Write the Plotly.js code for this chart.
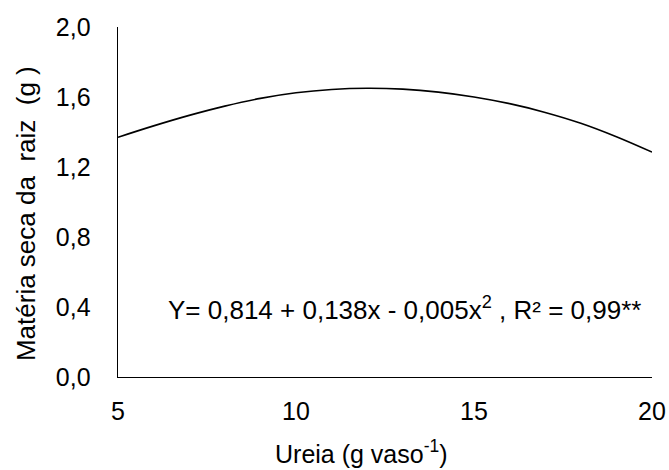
<!DOCTYPE html>
<html>
<head>
<meta charset="utf-8">
<script src="https://cdn.plot.ly/plotly-3.0.1.min.js"></script>
<style>html,body{margin:0;padding:0;background:#fff;}#chart{width:669px;height:470px;}</style>
</head>
<body>
<div id="chart"></div>
<script>
// Values
const ureia = [5, 6, 7, 8, 9, 10, 11, 12, 13, 14, 15, 16, 17, 18, 19, 20];
const materiaSeca = [1.370, 1.435, 1.495, 1.548, 1.592, 1.624, 1.643, 1.650, 1.645, 1.628, 1.600, 1.562, 1.512, 1.450, 1.373, 1.285];
const yTickVals = [0, 0.4, 0.8, 1.2, 1.6, 2.0];
const yTickText = ["0,0", "0,4", "0,8", "1,2", "1,6", "2,0"];
const xTickVals = [5, 10, 15, 20];
const xTickText = ["5", "10", "15", "20"];
const equationText = "Y= 0,814 + 0,138x - 0,005x<sup>2</sup> , R² = 0,99**";
const xTitle = "Ureia (g vaso<sup>-1</sup>)";
const yTitle = "Matéria seca da\u00a0 raiz\u00a0 (g )";

const fam = "Liberation Sans, Arial, sans-serif";
const tickFont = {family: fam, size: 25, color: "#000"};
const titleFont = {family: fam, size: 25, color: "#000"};
const yTitleFont = {family: fam, size: 26, color: "#000"};
const eqFont = {family: fam, size: 26, color: "#000"};

const trace = {
  x: ureia, y: materiaSeca, type: "scatter", mode: "lines",
  line: {color: "#000", width: 1.6, shape: "spline"},
  hoverinfo: "skip", showlegend: false
};

const layout = {
  width: 669, height: 470,
  margin: {l: 118, r: 17, t: 27, b: 93},
  paper_bgcolor: "#fff", plot_bgcolor: "#fff",
  font: tickFont,
  showlegend: false,
  xaxis: {
    range: [5, 20], tickvals: xTickVals, ticktext: xTickText, tickfont: tickFont,
    showgrid: false, zeroline: false, showline: true, linecolor: "#000", linewidth: 1.4,
    ticks: "", ticklabelstandoff: 12
  },
  yaxis: {
    range: [0, 2.0], tickvals: yTickVals, ticktext: yTickText, tickfont: tickFont,
    showgrid: false, zeroline: false, showline: true, linecolor: "#000", linewidth: 1.4,
    ticks: "", ticklabelstandoff: 21
  },
  annotations: [
    {text: equationText, xref: "x", yref: "y", x: 13.04, y: 0.39,
     showarrow: false, font: eqFont, xanchor: "center", yanchor: "middle"},
    {text: xTitle, xref: "paper", yref: "paper", x: 0.456, y: -0.215,
     showarrow: false, font: titleFont, xanchor: "center", yanchor: "middle"},
    {text: yTitle, xref: "paper", yref: "paper", x: -0.172, y: 0.466, textangle: -90,
     showarrow: false, font: yTitleFont, xanchor: "center", yanchor: "middle"}
  ]
};

Plotly.newPlot("chart", [trace], layout, {displayModeBar: false, staticPlot: true});
</script>
</body>
</html>
